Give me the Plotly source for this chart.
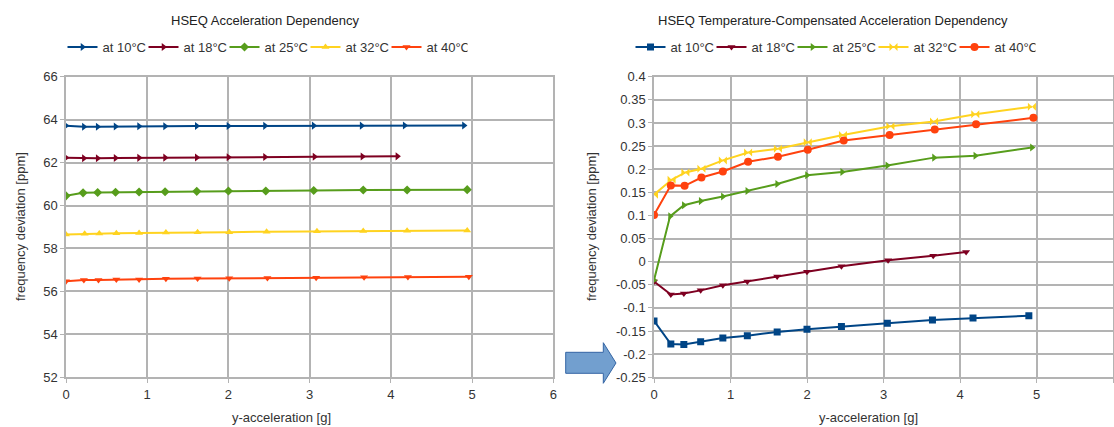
import plotly.graph_objects as go

# ---- data -------------------------------------------------------------
labels = ["at 10°C", "at 18°C", "at 25°C", "at 32°C", "at 40°C"]

x10 = [0, 0.22, 0.39, 0.61, 0.9, 1.22, 1.61, 2.0, 2.45, 3.05, 3.64, 4.17, 4.9]
x18 = [0, 0.22, 0.39, 0.61, 0.9, 1.22, 1.61, 2.0, 2.45, 3.06, 3.65, 4.08]
x25 = [0, 0.21, 0.39, 0.61, 0.9, 1.22, 1.61, 2.0, 2.46, 3.05, 3.66, 4.2, 4.94]
x32 = [0, 0.23, 0.41, 0.62, 0.9, 1.23, 1.62, 2.01, 2.47, 3.09, 3.66, 4.2, 4.94]
x40 = [0, 0.22, 0.4, 0.62, 0.9, 1.23, 1.62, 2.01, 2.48, 3.08, 3.67, 4.21, 4.96]

# raw frequency deviation [ppm]
raw10 = [63.72, 63.67, 63.67, 63.68, 63.69, 63.69, 63.70, 63.70, 63.71, 63.72, 63.72, 63.73, 63.73]
raw18 = [62.23, 62.20, 62.20, 62.21, 62.22, 62.23, 62.24, 62.25, 62.26, 62.27, 62.28, 62.29]
raw25 = [60.45, 60.59, 60.61, 60.62, 60.63, 60.64, 60.66, 60.68, 60.68, 60.70, 60.72, 60.72, 60.74]
raw32 = [58.65, 58.68, 58.70, 58.71, 58.72, 58.74, 58.75, 58.76, 58.78, 58.80, 58.81, 58.82, 58.84]
raw40 = [56.47, 56.53, 56.53, 56.55, 56.56, 56.59, 56.60, 56.61, 56.63, 56.64, 56.66, 56.67, 56.68]

# temperature-compensated frequency deviation [ppm]
comp10 = [-0.128, -0.178, -0.179, -0.173, -0.165, -0.160, -0.152, -0.146, -0.140, -0.133, -0.126, -0.122, -0.117]
comp18 = [-0.043, -0.071, -0.069, -0.062, -0.051, -0.043, -0.032, -0.022, -0.010, 0.003, 0.013, 0.021]
comp25 = [-0.040, 0.098, 0.122, 0.131, 0.141, 0.153, 0.168, 0.187, 0.194, 0.208, 0.225, 0.229, 0.247]
comp32 = [0.145, 0.177, 0.193, 0.201, 0.219, 0.236, 0.244, 0.258, 0.274, 0.293, 0.303, 0.319, 0.335]
comp40 = [0.101, 0.165, 0.164, 0.182, 0.195, 0.216, 0.227, 0.242, 0.262, 0.274, 0.286, 0.297, 0.311]

x_ticks = [0, 1, 2, 3, 4, 5, 6]
left_y_ticks = [52, 54, 56, 58, 60, 62, 64, 66]
right_y_ticks = [-0.25, -0.2, -0.15, -0.1, -0.05, 0, 0.05, 0.1, 0.15, 0.2, 0.25, 0.3, 0.35, 0.4]
right_y_labels = ["-0.25", "-0.2", "-0.15", "-0.1", "-0.05", "0", "0.05", "0.1",
                  "0.15", "0.2", "0.25", "0.3", "0.35", "0.4"]

# ---- styling ------------------------------------------------------------
W, H = 1114, 427
colors = ["#004586", "#7e0021", "#579d1c", "#ffd320", "#ff420e"]
left_symbols = ["triangle-right", "triangle-right", "diamond", "triangle-up", "triangle-down"]
right_symbols = ["square", "triangle-down", "triangle-right", "bowtie", "circle"]
FONT = "Liberation Sans, Arial, sans-serif"
GRID = "#b3b3b3"
TEXT = "#333333"


def px_x(p):
    return p / W


def px_y(p):
    return 1 - p / H


fig = go.Figure()

left_series = [(x10, raw10), (x18, raw18), (x25, raw25), (x32, raw32), (x40, raw40)]
right_series = [(x10, comp10), (x18, comp18), (x25, comp25), (x32, comp32), (x40, comp40)]

for i, (xs, ys) in enumerate(left_series):
    fig.add_trace(go.Scatter(
        x=xs, y=ys, mode="lines+markers", name=labels[i],
        line=dict(color=colors[i], width=2),
        marker=dict(symbol=left_symbols[i], size=7, color=colors[i]),
        xaxis="x", yaxis="y", legend="legend",
    ))

for i, (xs, ys) in enumerate(right_series):
    fig.add_trace(go.Scatter(
        x=xs, y=ys, mode="lines+markers", name=labels[i],
        line=dict(color=colors[i], width=2),
        marker=dict(symbol=right_symbols[i], size=8 if right_symbols[i] in ("bowtie", "circle") else 7,
                    color=colors[i]),
        xaxis="x2", yaxis="y2", legend="legend2",
    ))

axis_common = dict(
    showgrid=True, gridcolor=GRID, gridwidth=1.5,
    showline=True, linecolor=GRID, linewidth=1.5, mirror=True,
    ticks="outside", ticklen=4, tickcolor=GRID, tickwidth=1,
    zeroline=False, automargin=False,
    tickfont=dict(family=FONT, size=13, color=TEXT),
)

y_dom = [px_y(377.3), px_y(76.7)]


def text_at(text, x, y, angle=0, color=TEXT):
    return dict(text=text, x=px_x(x), y=px_y(y), xref="paper", yref="paper",
                xanchor="center", yanchor="middle", showarrow=False, textangle=angle,
                font=dict(family=FONT, size=13, color=color))


legend_common = dict(orientation="h", yanchor="middle", xanchor="center",
                     font=dict(family=FONT, size=13, color=TEXT), itemwidth=30,
                     entrywidth=36, bgcolor="rgba(0,0,0,0)", tracegroupgap=0)

fig.update_layout(
    template="none",
    width=W, height=H,
    margin=dict(l=0, r=0, t=0, b=0, autoexpand=False),
    paper_bgcolor="white", plot_bgcolor="white",
    font=dict(family=FONT, size=13, color=TEXT),
    xaxis=dict(domain=[px_x(66), px_x(553.3)], range=[0, 6], tickvals=x_ticks,
               anchor="y", **axis_common),
    yaxis=dict(domain=y_dom, range=[52, 66], tickvals=left_y_ticks, anchor="x", **axis_common),
    xaxis2=dict(domain=[px_x(654), px_x(1113)], range=[0, 6], tickvals=x_ticks,
                anchor="y2", **axis_common),
    yaxis2=dict(domain=y_dom, range=[-0.25, 0.4], tickvals=right_y_ticks, ticktext=right_y_labels,
                anchor="x2", **axis_common),
    legend=dict(x=px_x(265), y=px_y(47), **legend_common),
    legend2=dict(x=px_x(833), y=px_y(47), **legend_common),
    annotations=[
        text_at("HSEQ Acceleration Dependency", 265, 20, color="#222222"),
        text_at("HSEQ Temperature-Compensated Acceleration Dependency", 833, 20, color="#222222"),
        text_at("y-acceleration [g]", 282, 417),
        text_at("y-acceleration [g]", 868, 417),
        text_at("frequency deviation [ppm]", 20, 227, angle=-90),
        text_at("frequency deviation [ppm]", 591, 227, angle=-90),
    ],
)

# block arrow between the two panels
pts = [(565.7, 352.3), (603.3, 352.3), (603.3, 342.7), (616, 363), (603.3, 383.3),
       (603.3, 373.3), (565.7, 373.3)]
path = "M " + " L ".join(f"{px_x(a):.5f},{px_y(b):.5f}" for a, b in pts) + " Z"
fig.add_shape(type="path", path=path, xref="paper", yref="paper",
              fillcolor="#729fcf", line=dict(color="#3465a4", width=1))

fig.write_html("out.html")
